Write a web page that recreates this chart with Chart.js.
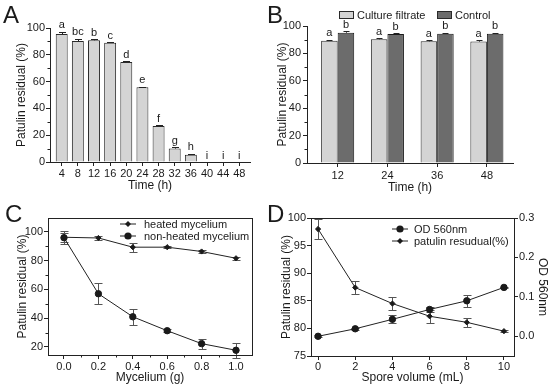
<!DOCTYPE html>
<html><head><meta charset="utf-8">
<script src="https://cdn.jsdelivr.net/npm/chart.js@4.4.1/dist/chart.umd.min.js"></script>
<style>
html,body{margin:0;padding:0;background:#fff;}
#wrap{position:relative;width:550px;height:388px;overflow:hidden;font-family:'Liberation Sans',Arial,sans-serif;color:#1a1a1a;}
canvas{position:absolute;}
.pl{position:absolute;font-size:24px;line-height:24px;}
.lg{position:absolute;font-size:11px;line-height:12px;white-space:nowrap;display:flex;align-items:center;}
</style></head><body>
<div id="wrap">
<canvas id="cA" width="275" height="195" style="left:0;top:0"></canvas>
<canvas id="cB" width="275" height="195" style="left:275px;top:0"></canvas>
<canvas id="cC" width="275" height="193" style="left:0;top:195px"></canvas>
<canvas id="cD" width="275" height="193" style="left:275px;top:195px"></canvas>
<div class="pl" style="left:3px;top:3px">A</div>
<div class="pl" style="left:267px;top:3px">B</div>
<div class="pl" style="left:5px;top:202px">C</div>
<div class="pl" style="left:267px;top:202px">D</div>
<div id="legB"></div><div id="legC"></div><div id="legD"></div>
</div>
<script>
// ---------- Panel A ----------
const timeA = [4, 8, 12, 16, 20, 24, 28, 32, 36, 40, 44, 48];
const residualA = [95.5, 90.3, 90.8, 89.0, 74.6, 55.7, 26.9, 10.0, 5.5, 0, 0, 0];
const errA = [1.7, 1.5, 0.9, 0.5, 0.6, 0.5, 0.4, 1.0, 0.6, 0, 0, 0];
const lettersA = ['a', 'bc', 'b', 'c', 'd', 'e', 'f', 'g', 'h', 'i', 'i', 'i'];
const xTickLabelsA = ['4', '8', '12', '16', '20', '24', '28', '32', '36', '40', '44', '48'];
const yTicksA = [0, 20, 40, 60, 80, 100];
const yMinorA = [10, 30, 50, 70, 90];

// ---------- Panel B ----------
const timeB = [12, 24, 36, 48];
const seriesNamesB = ['Culture filtrate', 'Control'];
const filtrateB = [89.3, 90.3, 88.8, 88.6];
const filtrateErrB = [0.5, 0.6, 0.7, 1.0];
const controlB = [95.1, 94.2, 94.4, 94.4];
const controlErrB = [1.0, 0.5, 0.5, 0.5];
const lettersFiltrateB = ['a', 'a', 'a', 'a'];
const lettersControlB = ['b', 'b', 'b', 'b'];
const yTicksB = [0, 20, 40, 60, 80, 100];
const yMinorB = [10, 30, 50, 70, 90];

// ---------- Panel C ----------
const myceliumC = [0, 0.2, 0.4, 0.6, 0.8, 1.0];
const seriesNamesC = ['heated mycelium', 'non-heated mycelium'];
const heatedC = [96.3, 95.8, 89.4, 89.4, 86.4, 81.7];
const heatedErrC = [4.5, 1.7, 3.2, 0.8, 1.0, 1.0];
const nonHeatedC = [96.0, 57.0, 41.0, 31.3, 22.3, 17.7];
const nonHeatedErrC = [3.0, 7.2, 5.7, 1.0, 3.5, 5.2];
const xTicksC = [0, 0.2, 0.4, 0.6, 0.8, 1.0];
const xTickLabelsC = ['0.0', '0.2', '0.4', '0.6', '0.8', '1.0'];
const xMinorC = [0.1, 0.3, 0.5, 0.7, 0.9];
const yTicksC = [20, 40, 60, 80, 100];
const yMinorC = [30, 50, 70, 90];

// ---------- Panel D ----------
const sporeD = [0, 2, 4, 6, 8, 10];
const seriesNamesD = ['OD 560nm', 'patulin resudual(%)'];
const odD = [0.0, 0.019, 0.043, 0.068, 0.090, 0.124];
const odErrD = [0.002, 0.003, 0.010, 0.007, 0.015, 0.002];
const patulinD = [98.0, 87.4, 84.5, 82.2, 81.1, 79.5];
const patulinErrD = [1.75, 1.15, 1.2, 1.2, 0.8, 0.2];
const xTicksD = [0, 2, 4, 6, 8, 10];
const yTicksD = [75, 80, 85, 90, 95, 100];
const y2TicksD = [0, 0.1, 0.2, 0.3];
const y2TickLabelsD = ['0.0', '0.1', '0.2', '0.3'];

const FONT = "'Liberation Sans', Arial, sans-serif";
const INK = '#1a1a1a';

function pairs(xs, ys) { return xs.map((x, i) => ({ x: x, y: ys[i] })); }

function drawErrors(chart, opts) {
  const ctx = chart.ctx;
  chart.data.datasets.forEach((ds, di) => {
    if (!ds.errors) return;
    const meta = chart.getDatasetMeta(di);
    const ys = chart.scales[meta.yAxisID];
    ctx.save();
    ctx.strokeStyle = opts.color || '#333';
    ctx.lineWidth = 1;
    meta.data.forEach((el, i) => {
      const e = ds.errors[i];
      if (!e) return;
      const v = ds.data[i].y;
      const top = Math.round(ys.getPixelForValue(v + e)) + 0.5;
      const bot = opts.upOnly ? ys.getPixelForValue(v) : Math.round(ys.getPixelForValue(v - e)) + 0.5;
      const x = Math.round(el.x) + 0.5;
      const w = opts.cap / 2;
      ctx.beginPath();
      ctx.moveTo(x, top); ctx.lineTo(x, bot);
      ctx.moveTo(x - w, top); ctx.lineTo(x + w, top);
      if (!opts.upOnly) { ctx.moveTo(x - w, bot); ctx.lineTo(x + w, bot); }
      ctx.stroke();
    });
    ctx.restore();
  });
}
function drawLetters(chart) {
  const ctx = chart.ctx;
  chart.data.datasets.forEach((ds, di) => {
    if (!ds.letters) return;
    const meta = chart.getDatasetMeta(di);
    const ys = chart.scales[meta.yAxisID];
    ctx.save();
    ctx.fillStyle = INK;
    ctx.font = '11px ' + FONT;
    ctx.textAlign = 'center';
    ctx.textBaseline = 'alphabetic';
    meta.data.forEach((el, i) => {
      const v = ds.data[i].y + (ds.errors ? ds.errors[i] : 0);
      ctx.fillText(ds.letters[i], el.x, ys.getPixelForValue(v) - 3.5);
    });
    ctx.restore();
  });
}
const errPlugin = {
  id: 'errBars',
  beforeDatasetsDraw(chart, args, opts) { if (opts.behind) drawErrors(chart, opts); },
  afterDatasetsDraw(chart, args, opts) { if (!opts.behind) drawErrors(chart, opts); drawLetters(chart); }
};
const minorPlugin = {
  id: 'minorTicks',
  afterDraw(chart, args, opts) {
    const ctx = chart.ctx;
    ctx.save();
    ctx.strokeStyle = '#222';
    ctx.lineWidth = 1;
    (opts.axes || []).forEach(a => {
      const s = chart.scales[a.id];
      const len = 2.5;
      ctx.beginPath();
      a.values.forEach(v => {
        const p = Math.round(s.getPixelForValue(v)) + 0.5;
        if (s.isHorizontal()) { ctx.moveTo(p, s.top); ctx.lineTo(p, s.top + len); }
        else if (s.position === 'left') { ctx.moveTo(s.right, p); ctx.lineTo(s.right - len, p); }
        else { ctx.moveTo(s.left, p); ctx.lineTo(s.left + len, p); }
      });
      ctx.stroke();
    });
    ctx.restore();
  }
};
const boxPlugin = {
  id: 'frameBox',
  afterDraw(chart, args, opts) {
    if (!opts.on) return;
    const a = chart.chartArea, ctx = chart.ctx;
    ctx.save();
    ctx.strokeStyle = '#222'; ctx.lineWidth = 1;
    ctx.strokeRect(Math.round(a.left) + 0.5, Math.round(a.top) + 0.5, Math.round(a.right - a.left), Math.round(a.bottom - a.top));
    ctx.restore();
  }
};

function axis(o) {
  const vals = o.ticks, labels = o.labels || o.ticks.map(String);
  const cfg = {
    type: 'linear',
    position: o.position,
    min: o.min, max: o.max,
    offset: false,
    border: { display: true, color: '#222', width: 1 },
    grid: { display: true, drawOnChartArea: false, drawTicks: true, tickLength: 4, color: '#222', offset: false },
    ticks: { color: INK, font: { size: 11, family: FONT }, padding: o.tickPad, autoSkip: false, maxRotation: 0,
      callback: (v, i) => labels[i] },
    afterBuildTicks: s => { s.ticks = vals.map(v => ({ value: v })); },
    title: { display: true, text: o.title, color: INK, font: { size: 12, family: FONT }, padding: o.titlePad }
  };
  if (o.width !== undefined) cfg.afterFit = s => { s.width = o.width; };
  if (o.height !== undefined) cfg.afterFit = s => { s.height = o.height; };
  return cfg;
}
function baseOpts(padding, plugins, scales) {
  return {
    responsive: false, animation: false, events: [],
    layout: { padding: padding },
    plugins: Object.assign({ legend: { display: false }, tooltip: { enabled: false } }, plugins),
    scales: scales
  };
}

// ---- Chart A ----
new Chart(document.getElementById('cA'), {
  type: 'bar',
  data: { datasets: [{
    label: 'Patulin residual (%)', data: pairs(timeA, residualA), errors: errA, letters: lettersA,
    backgroundColor: '#d4d4d4', borderColor: '#2a2a2a', borderWidth: 1, barPercentage: 0.74, categoryPercentage: 1
  }] },
  options: baseOpts({ left: 0, right: 25, top: 28, bottom: 0 },
    { errBars: { cap: 7, upOnly: true, color: '#222' }, minorTicks: { axes: [{ id: 'y', values: yMinorA }] } },
    {
      x: axis({ position: 'bottom', min: 1.1, max: 50.65, ticks: timeA, labels: xTickLabelsA, tickPad: 1, title: 'Time (h)', titlePad: { top: 0, bottom: 1.8 }, height: 33 }),
      y: axis({ position: 'left', min: 0, max: 100, ticks: yTicksA, tickPad: 1, title: 'Patulin residual (%)', titlePad: { top: 14, bottom: 0 }, width: 50 })
    }),
  plugins: [errPlugin, minorPlugin]
});

// ---- Chart B ----
new Chart(document.getElementById('cB'), {
  type: 'bar',
  data: { datasets: [
    { label: seriesNamesB[0], data: pairs(timeB, filtrateB), errors: filtrateErrB, letters: lettersFiltrateB,
      backgroundColor: '#d4d4d4', borderColor: '#2a2a2a', borderWidth: 1, barPercentage: 1, categoryPercentage: 0.665 },
    { label: seriesNamesB[1], data: pairs(timeB, controlB), errors: controlErrB, letters: lettersControlB,
      backgroundColor: '#6c6c6c', borderColor: '#1a1a1a', borderWidth: 1, barPercentage: 1, categoryPercentage: 0.665 }
  ] },
  options: baseOpts({ left: 0, right: 37, top: 26, bottom: 0 },
    { errBars: { cap: 6, upOnly: true, color: '#222' }, minorTicks: { axes: [{ id: 'y', values: yMinorB }] } },
    {
      x: axis({ position: 'bottom', min: 4.6, max: 54.3, ticks: timeB, tickPad: 2, title: 'Time (h)', titlePad: { top: 0, bottom: 0.3 }, height: 32 }),
      y: axis({ position: 'left', min: 0, max: 100, ticks: yTicksB, tickPad: 2, title: 'Patulin residual (%)', titlePad: { top: 0, bottom: 0 }, width: 32 })
    }),
  plugins: [errPlugin, minorPlugin]
});

// ---- Chart C ----
new Chart(document.getElementById('cC'), {
  type: 'line',
  data: { datasets: [
    { label: seriesNamesC[0], data: pairs(myceliumC, heatedC), errors: heatedErrC,
      borderColor: '#222', borderWidth: 1, tension: 0, pointStyle: 'rectRot', pointRadius: 2.6,
      pointBackgroundColor: INK, pointBorderColor: INK, pointBorderWidth: 1 },
    { label: seriesNamesC[1], data: pairs(myceliumC, nonHeatedC), errors: nonHeatedErrC,
      borderColor: '#222', borderWidth: 1, tension: 0, pointStyle: 'circle', pointRadius: 3.2,
      pointBackgroundColor: INK, pointBorderColor: INK, pointBorderWidth: 1 }
  ] },
  options: baseOpts({ left: 0, right: 23, top: 23, bottom: 0 },
    { errBars: { cap: 8, behind: true, color: '#555' }, frameBox: { on: true },
      minorTicks: { axes: [{ id: 'x', values: xMinorC }, { id: 'y', values: yMinorC }] } },
    {
      x: axis({ position: 'bottom', min: -0.093, max: 1.093, ticks: xTicksC, labels: xTickLabelsC, tickPad: 1, title: 'Mycelium (g)', titlePad: { top: 0, bottom: 3.3 }, height: 33 }),
      y: axis({ position: 'left', min: 14.4, max: 109.7, ticks: yTicksC, tickPad: 1, title: 'Patulin residual (%)', titlePad: { top: 15, bottom: 0 }, width: 48 })
    }),
  plugins: [errPlugin, minorPlugin, boxPlugin]
});

// ---- Chart D ----
new Chart(document.getElementById('cD'), {
  type: 'line',
  data: { datasets: [
    { label: seriesNamesD[0], data: pairs(sporeD, odD), errors: odErrD, yAxisID: 'y2',
      borderColor: '#222', borderWidth: 1, tension: 0, pointStyle: 'circle', pointRadius: 3.2,
      pointBackgroundColor: INK, pointBorderColor: INK, pointBorderWidth: 1 },
    { label: seriesNamesD[1], data: pairs(sporeD, patulinD), errors: patulinErrD, yAxisID: 'y',
      borderColor: '#222', borderWidth: 1, tension: 0, pointStyle: 'rectRot', pointRadius: 2.6,
      pointBackgroundColor: INK, pointBorderColor: INK, pointBorderWidth: 1 }
  ] },
  options: baseOpts({ left: 0, right: 0, top: 23, bottom: 0 },
    { errBars: { cap: 8, behind: true, color: '#555' }, frameBox: { on: true } },
    {
      x: axis({ position: 'bottom', min: -0.38, max: 10.54, ticks: xTicksD, tickPad: 0, title: 'Spore volume (mL)', titlePad: { top: 0, bottom: 3.3 }, height: 32 }),
      y: axis({ position: 'left', min: 75, max: 100, ticks: yTicksD, tickPad: 1, title: 'Patulin residual (%)', titlePad: { top: 4, bottom: 0 }, width: 36 }),
      y2: axis({ position: 'right', min: -0.05, max: 0.3, ticks: y2TicksD, labels: y2TickLabelsD, tickPad: 1, title: 'OD 560nm', titlePad: { top: 0.3, bottom: 0 }, width: 36 })
    }),
  plugins: [errPlugin, boxPlugin]
});

// ---- HTML legends ----
function swatch(color) {
  return '<span style="display:inline-block;width:13px;height:6px;border:1px solid #2a2a2a;background:' + color + ';margin-right:3px"></span>';
}
function marker(style, r) {
  const shape = style === 'circle'
    ? '<circle cx="8" cy="5" r="' + r + '" fill="' + INK + '"/>'
    : '<polygon points="8,' + (5 - r) + ' ' + (8 + r) + ',5 8,' + (5 + r) + ' ' + (8 - r) + ',5" fill="' + INK + '"/>';
  return '<svg width="16" height="10" style="display:block"><line x1="0" y1="5" x2="16" y2="5" stroke="#222" stroke-width="1"/>' + shape + '</svg>';
}
function legendRow(left, cy, inner) {
  return '<div class="lg" style="left:' + left + 'px;top:' + (cy - 6) + 'px;height:12px">' + inner + '</div>';
}
document.getElementById('legB').innerHTML =
  legendRow(339, 15, swatch('#d4d4d4') + '<span>' + seriesNamesB[0] + '</span>') +
  legendRow(437, 15, swatch('#6c6c6c') + '<span>' + seriesNamesB[1] + '</span>');
document.getElementById('legC').innerHTML =
  legendRow(120, 224, marker('rectRot', 3) + '<span style="margin-left:8px">' + seriesNamesC[0] + '</span>') +
  legendRow(120, 236, marker('circle', 3.6) + '<span style="margin-left:8px">' + seriesNamesC[1] + '</span>');
document.getElementById('legD').innerHTML =
  legendRow(392, 229, marker('circle', 3.6) + '<span style="margin-left:6px">' + seriesNamesD[0] + '</span>') +
  legendRow(392, 241, marker('rectRot', 3) + '<span style="margin-left:6px">' + seriesNamesD[1] + '</span>');
</script>
</body></html>
